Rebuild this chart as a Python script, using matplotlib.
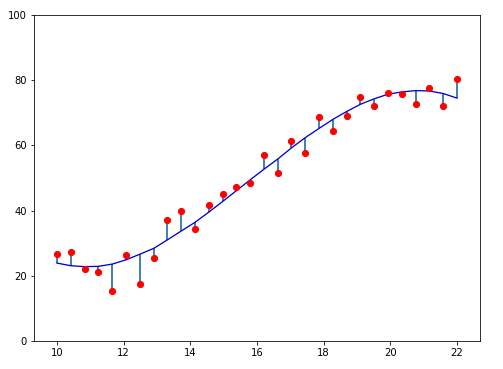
import numpy as np
import matplotlib
matplotlib.use("Agg")
from matplotlib import pyplot as plt

# sample positions (evenly spaced 10..22, 30 samples)
x = [10.00, 10.41, 10.83, 11.24, 11.66, 12.07, 12.48, 12.90, 13.31, 13.72,
     14.14, 14.55, 14.97, 15.38, 15.79, 16.21, 16.62, 17.03, 17.45, 17.86,
     18.28, 18.69, 19.10, 19.52, 19.93, 20.34, 20.76, 21.17, 21.59, 22.00]

# measured values (red dots)
y_obs = [26.7, 27.2, 22.0, 21.1, 15.2, 26.3, 17.4, 25.4, 37.0, 39.8,
         34.3, 41.7, 45.0, 47.1, 48.4, 57.0, 51.4, 61.2, 57.6, 68.6,
         64.3, 69.0, 74.7, 72.0, 76.1, 75.7, 72.6, 77.5, 72.0, 80.3]

# fitted curve (blue line)
y_fit = [23.9, 23.1, 22.8, 22.9, 23.6, 24.9, 26.6, 28.4, 31.0, 33.7,
         36.4, 39.5, 42.8, 46.1, 49.4, 52.7, 55.8, 59.2, 62.4, 65.2,
         68.0, 70.4, 72.6, 74.3, 75.7, 76.4, 76.8, 76.7, 75.9, 74.5]

W, H, DPI = 503, 369, 72
fig = plt.figure(figsize=(W / DPI, H / DPI), dpi=DPI)
ax = fig.add_axes([34 / W, 1 - 341 / H, (480 - 34) / W, (341 - 15) / H])

# residual stems
ax.vlines(x, y_fit, y_obs, colors="steelblue", linewidth=2, zorder=1)
ax.plot(x, y_fit, color="mediumblue", linewidth=1.3, zorder=2)
ax.scatter(x, y_obs, color="red", s=38, zorder=3)

ax.set_ylim(0, 100)
ax.set_xlim(9.31, 22.69)
ax.set_xticks([10, 12, 14, 16, 18, 20, 22])
ax.set_yticks([0, 20, 40, 60, 80, 100])
ax.tick_params(labelsize=10)

fig.savefig("out.png", dpi=DPI)
